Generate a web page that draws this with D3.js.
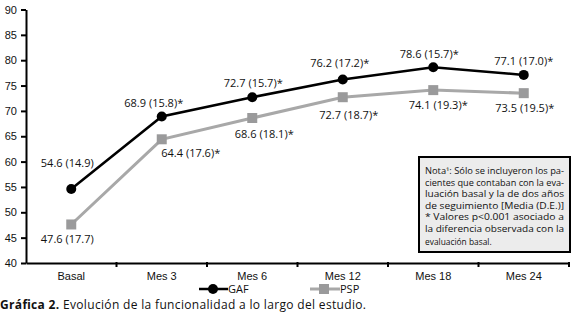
<!DOCTYPE html>
<html>
<head>
<meta charset="utf-8">
<script src="https://cdn.jsdelivr.net/npm/d3@7"></script>
<style>
  body { margin: 0; background: #fff; }
  svg { display: block; font-family: 'Open Sans', 'Noto Sans', sans-serif; }
</style>
</head>
<body>
<div class="chart"></div>
<script>
// ---- data ----
const categories = ['Basal', 'Mes 3', 'Mes 6', 'Mes 12', 'Mes 18', 'Mes 24']
const gafValues = [54.6, 68.9, 72.7, 76.2, 78.6, 77.1]
const gafSD = ['14.9', '15.8', '15.7', '17.2', '15.7', '17.0']
const pspValues = [47.6, 64.4, 68.6, 72.7, 74.1, 73.5]
const pspSD = ['17.7', '17.6', '18.1', '18.7', '19.3', '19.5']
const yTicks = [40, 45, 50, 55, 60, 65, 70, 75, 80, 85, 90]
const noteLines = [
  'Nota¹: Sólo se incluyeron los pa-',
  'cientes que contaban con la eva-',
  'luación basal y la de dos años',
  'de seguimiento [Media (D.E.)]',
  '* Valores p<0.001 asociado a',
  'la diferencia observada con la',
  'evaluación basal.'
]

const W = 574, H = 323
const margin = { top: 9.5, right: 5, bottom: 60, left: 26 }

const svg = d3.select('.chart')
  .append('svg')
    .attr('width', W)
    .attr('height', H)

const x = d3.scaleBand()
  .domain(categories)
  .range([margin.left, 569])
const y = d3.scaleLinear()
  .domain([40, 90])
  .range([263, margin.top])

// y axis
const yAxis = svg.append('g')
  .attr('transform', `translate(${margin.left},0)`)
  .call(d3.axisLeft(y).tickValues(yTicks).tickSize(5).tickPadding(4).tickSizeOuter(0))
yAxis.select('.domain').attr('stroke-width', 2)
yAxis.selectAll('.tick line').attr('stroke-width', 2)
yAxis.selectAll('text').attr('font-size', 11).attr('fill', '#111')

// x axis
const xAxis = svg.append('g')
  .attr('transform', 'translate(0,263)')
  .call(d3.axisBottom(x).tickSize(0).tickPadding(9).tickSizeOuter(0))
xAxis.select('.domain').attr('stroke-width', 2)
xAxis.selectAll('text').attr('font-size', 11).attr('fill', '#111')

// boundary ticks between categories
svg.append('g').selectAll('line')
  .data(categories.slice(1).map(c => x(c)).concat([x.range()[1]]))
  .join('line')
    .attr('x1', d => d).attr('x2', d => d)
    .attr('y1', 262).attr('y2', 267)
    .attr('stroke', '#000').attr('stroke-width', 2)

const cx = d => x(d) + x.bandwidth() / 2
const line = d3.line()
  .x(d => cx(d.cat))
  .y(d => y(d.v))

const gaf = categories.map((c, i) => ({ cat: c, v: gafValues[i], sd: gafSD[i], i }))
const psp = categories.map((c, i) => ({ cat: c, v: pspValues[i], sd: pspSD[i], i }))

// PSP series
svg.append('path')
  .datum(psp)
  .attr('d', line)
  .attr('fill', 'none')
  .attr('stroke', '#a8a8a8')
  .attr('stroke-width', 3)
svg.append('g').selectAll('rect')
  .data(psp)
  .join('rect')
    .attr('x', d => cx(d.cat) - 5)
    .attr('y', d => y(d.v) - 5)
    .attr('width', 10).attr('height', 10)
    .attr('fill', '#9a9a9b')

// GAF series
svg.append('path')
  .datum(gaf)
  .attr('d', line)
  .attr('fill', 'none')
  .attr('stroke', '#000')
  .attr('stroke-width', 2.5)
svg.append('g').selectAll('circle')
  .data(gaf)
  .join('circle')
    .attr('cx', d => cx(d.cat))
    .attr('cy', d => y(d.v))
    .attr('r', 5)
    .attr('fill', '#000')

// value labels
const gafOff = [[-4, -26], [-8, -14], [1, -15], [-3, -17], [-4, -14], [0, -14]]
const pspOff = [[-4, 14], [29, 13], [12, 16], [6, 17], [5, 14], [1, 14]]
const lbl = (d, star) => `${d.v.toFixed(1)} (${d.sd})${star && d.i > 0 ? '*' : ''}`

svg.append('g').selectAll('text')
  .data(gaf)
  .join('text')
    .attr('x', d => cx(d.cat) + gafOff[d.i][0])
    .attr('y', d => y(d.v) + gafOff[d.i][1])
    .attr('text-anchor', 'middle')
    .attr('dominant-baseline', 'central')
    .attr('font-size', 11)
    .attr('fill', '#111')
    .text(d => lbl(d, true))
svg.append('g').selectAll('text')
  .data(psp)
  .join('text')
    .attr('x', d => cx(d.cat) + pspOff[d.i][0])
    .attr('y', d => y(d.v) + pspOff[d.i][1])
    .attr('text-anchor', 'middle')
    .attr('dominant-baseline', 'central')
    .attr('font-size', 11)
    .attr('fill', '#111')
    .text(d => lbl(d, true))

// note box
const note = svg.append('g')
note.append('rect')
  .attr('x', 419).attr('y', 157)
  .attr('width', 151).attr('height', 95)
  .attr('fill', '#ececec')
  .attr('stroke', '#000')
  .attr('stroke-width', 2)
note.selectAll('text')
  .data(noteLines)
  .join('text')
    .attr('x', 425)
    .attr('y', (d, i) => 174 + i * 11.6 + (i === 6 ? 1 : 0))
    .attr('font-size', 8.4)
    .attr('fill', '#111')
    .attr('textLength', (d, i) => i < 6 ? 139 : null)
    .attr('lengthAdjust', 'spacingAndGlyphs')
    .text(d => d)

// legend
const legend = svg.append('g')
const lg1 = legend.append('g').attr('transform', 'translate(199,289)')
lg1.append('line').attr('x1', 0).attr('x2', 29).attr('stroke', '#000').attr('stroke-width', 2.5)
lg1.append('circle').attr('cx', 14).attr('r', 5).attr('fill', '#000')
lg1.append('text').attr('x', 29).attr('dy', '0.35em').attr('font-size', 11).attr('fill', '#111').text('GAF')

const lg2 = legend.append('g').attr('transform', 'translate(310,289)')
lg2.append('line').attr('x1', 0).attr('x2', 30).attr('stroke', '#a8a8a8').attr('stroke-width', 3)
lg2.append('rect').attr('x', 9).attr('y', -5).attr('width', 10).attr('height', 10).attr('fill', '#9a9a9b')
lg2.append('text').attr('x', 30).attr('dy', '0.35em').attr('font-size', 11).attr('fill', '#111').text('PSP')

// caption
const cap = svg.append('text')
  .attr('x', 0).attr('y', 309)
  .attr('font-size', 12)
  .attr('fill', '#111')
  .attr('textLength', 366)
  .attr('lengthAdjust', 'spacing')
cap.append('tspan').attr('font-weight', 'bold').text('Gráfica 2.')
cap.append('tspan').text(' Evolución de la funcionalidad a lo largo del estudio.')
</script>
</body>
</html>
